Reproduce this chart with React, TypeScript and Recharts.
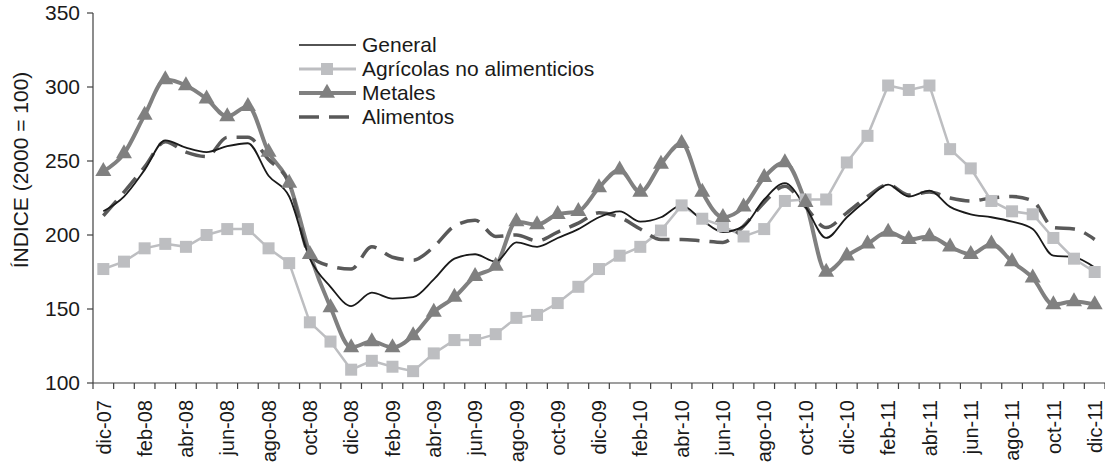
import React from "react";
import { ComposedChart, Line, XAxis, YAxis } from "recharts";

const months = [
  "dic-07", "ene-08", "feb-08", "mar-08", "abr-08", "may-08", "jun-08", "jul-08", "ago-08", "sep-08", "oct-08", "nov-08",
  "dic-08", "ene-09", "feb-09", "mar-09", "abr-09", "may-09", "jun-09", "jul-09", "ago-09", "sep-09", "oct-09", "nov-09",
  "dic-09", "ene-10", "feb-10", "mar-10", "abr-10", "may-10", "jun-10", "jul-10", "ago-10", "sep-10", "oct-10", "nov-10",
  "dic-10", "ene-11", "feb-11", "mar-11", "abr-11", "may-11", "jun-11", "jul-11", "ago-11", "sep-11", "oct-11", "nov-11",
  "dic-11",
];

const general = [
  216, 226, 244, 264, 259, 256, 260, 262, 240, 226, 184, 165,
  152, 161, 157, 158, 170, 184, 187, 182, 195, 192, 198, 204,
  212, 216, 209, 212, 220, 210, 202, 206, 224, 235, 219, 198,
  212, 224, 234, 226, 230, 219, 214, 212, 209, 204, 186, 185,
  178,
];

const agricolas = [
  177, 182, 191, 194, 192, 200, 204, 204, 191, 181, 141, 128,
  109, 115, 111, 108, 120, 129, 129, 133, 144, 146, 154, 165,
  177, 186, 192, 203, 220, 211, 206, 199, 204, 223, 224, 224,
  249, 267, 301, 298, 301, 258, 245, 223, 216, 214, 198, 184,
  175,
];

const metales = [
  243, 255, 281, 305, 301, 292, 280, 287, 256, 235, 187, 151,
  124, 128, 124, 132, 148, 158, 172, 179, 209, 207, 214, 216,
  232, 244, 229, 248, 262, 229, 212, 219, 239, 249, 222, 175,
  186, 194, 202, 197, 199, 192, 187, 194, 182, 171, 153, 155,
  153,
];

const alimentos = [
  213, 229, 246, 263, 256, 253, 266, 266, 251, 235, 186, 179,
  177, 192, 185, 183, 192, 206, 210, 199, 200, 196, 202, 208,
  215, 212, 204, 197, 197, 196, 195, 206, 222, 233, 219, 205,
  215, 226, 234, 227, 229, 225, 223, 225, 226, 223, 205, 204,
  197,
];

const yTicks = [100, 150, 200, 250, 300, 350];

const data = months.map((m, i) => ({
  month: m,
  general: general[i],
  agricolas: agricolas[i],
  metales: metales[i],
  alimentos: alimentos[i],
}));

const FONT = "'Liberation Sans', Arial, sans-serif";
const W = 1105;
const H = 466;
const LEFT = 93;
const TOP = 13;
const AXIS_Y = 383;
const BW = (W - LEFT) / months.length;

const C_GEN = "#1a1a1a";
const C_AGR = "#bdbec1";
const C_MET = "#808080";
const C_ALI = "#595959";

const Square = ({ cx, cy, size = 12, color = C_AGR }: any) => (
  <rect x={cx - size / 2} y={cy - size / 2} width={size} height={size} fill={color} />
);

const Triangle = ({ cx, cy, w = 16, h = 14, color = C_MET }: any) => (
  <polygon
    points={`${cx},${cy - (h * 2) / 3} ${cx - w / 2},${cy + h / 3} ${cx + w / 2},${cy + h / 3}`}
    fill={color}
  />
);

const XTick = (props: any) => {
  const { x, payload, index } = props;
  const last = index === months.length - 1;
  const ty = AXIS_Y + 17;
  return (
    <g>
      <line x1={x - BW / 2} x2={x - BW / 2} y1={AXIS_Y} y2={AXIS_Y + 6} stroke="#404040" strokeWidth={1.2} />
      {last && <line x1={x + BW / 2} x2={x + BW / 2} y1={AXIS_Y} y2={AXIS_Y + 6} stroke="#404040" strokeWidth={1.2} />}
      {index % 2 === 0 && (
        <text
          x={x}
          y={ty}
          dy="0.36em"
          textAnchor="end"
          transform={`rotate(-90 ${x} ${ty})`}
          fontSize={20}
          fill="#1a1a1a"
          fontFamily={FONT}
        >
          {payload.value}
        </text>
      )}
    </g>
  );
};

const legendItems = [
  { name: "General", color: C_GEN, width: 1.6, dash: undefined, marker: null },
  { name: "Agrícolas no alimenticios", color: C_AGR, width: 3, dash: undefined, marker: "square" },
  { name: "Metales", color: C_MET, width: 4, dash: undefined, marker: "triangle" },
  { name: "Alimentos", color: C_ALI, width: 3.5, dash: "20 10", marker: null },
];

function ChartLegend() {
  return (
    <div style={{ position: "absolute", left: 299, top: 33, fontFamily: FONT, fontSize: 21, color: "#1a1a1a" }}>
      {legendItems.map((it) => (
        <div key={it.name} style={{ display: "flex", alignItems: "center", height: 24 }}>
          <svg width={57} height={24} style={{ display: "block" }}>
            <line x1={0} x2={57} y1={12} y2={12} stroke={it.color} strokeWidth={it.width} strokeDasharray={it.dash} />
            {it.marker === "square" && <Square cx={28} cy={12} />}
            {it.marker === "triangle" && <Triangle cx={28} cy={12} />}
          </svg>
          <span style={{ marginLeft: 6, lineHeight: "24px" }}>{it.name}</span>
        </div>
      ))}
    </div>
  );
}

export default function App() {
  return (
    <div style={{ position: "absolute", left: 0, top: 0, width: W, height: H, background: "#fff" }}>
      <ComposedChart width={W} height={H} data={data} margin={{ top: TOP, right: 0, bottom: 0, left: 0 }}>
        <XAxis
          dataKey="month"
          scale="band"
          interval={0}
          height={H - AXIS_Y}
          tickLine={false}
          axisLine={{ stroke: "#404040", strokeWidth: 1.2 }}
          tick={<XTick />}
        />
        <YAxis
          domain={[100, 350]}
          ticks={yTicks}
          width={LEFT}
          tickSize={6}
          tickMargin={7}
          axisLine={{ stroke: "#404040", strokeWidth: 1.2 }}
          tickLine={{ stroke: "#404040", strokeWidth: 1.2 }}
          tick={{ fontSize: 21, fill: "#1a1a1a", fontFamily: FONT }}
          label={{
            value: "ÍNDICE (2000 = 100)",
            content: () => (
              <text
                x={20}
                y={170}
                transform="rotate(-90 20 170)"
                textAnchor="middle"
                dy="0.36em"
                fontSize={21}
                fill="#1a1a1a"
                fontFamily={FONT}
              >
                ÍNDICE (2000 = 100)
              </text>
            ),
          }}
        />
        <Line
          type="linear"
          dataKey="agricolas"
          stroke={C_AGR}
          strokeWidth={2.5}
          dot={(p: any) => <Square key={`a${p.index}`} cx={p.cx} cy={p.cy} />}
          activeDot={false}
          isAnimationActive={false}
        />
        <Line
          type="monotone"
          dataKey="metales"
          stroke={C_MET}
          strokeWidth={4}
          dot={(p: any) => <Triangle key={`m${p.index}`} cx={p.cx} cy={p.cy} />}
          activeDot={false}
          isAnimationActive={false}
        />
        <Line
          type="monotone"
          dataKey="alimentos"
          stroke={C_ALI}
          strokeWidth={3.5}
          strokeDasharray="20 10"
          dot={false}
          activeDot={false}
          isAnimationActive={false}
        />
        <Line
          type="monotone"
          dataKey="general"
          stroke={C_GEN}
          strokeWidth={1.8}
          dot={false}
          activeDot={false}
          isAnimationActive={false}
        />
      </ComposedChart>
      <ChartLegend />
    </div>
  );
}
